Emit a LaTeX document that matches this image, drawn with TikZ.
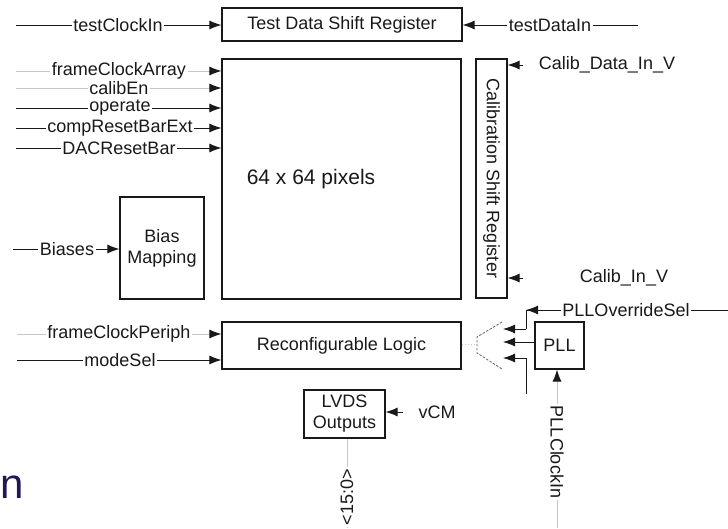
\documentclass[tikz,border=0pt]{standalone}
\usepackage{fontspec}
\setmainfont{Liberation Sans}
\usetikzlibrary{arrows.meta}
\definecolor{navy}{RGB}{32,26,82}
\definecolor{ink}{RGB}{25,25,25}
\tikzset{
  blk/.style={draw=ink, line width=1.2pt, rectangle, inner sep=0pt, align=center,
    font=\fontsize{18}{20}\selectfont, text=ink},
  lab/.style={fill=white, inner xsep=1.5pt, inner ysep=0pt, font=\fontsize{18}{20}\selectfont, text=ink},
  plain/.style={inner sep=0pt, font=\fontsize{18}{20}\selectfont, text=ink},
  arr/.style={draw=ink, line width=0.9pt, -{Latex[length=12pt,width=9pt,color=ink]}},
  farr/.style={draw=gray!45, line width=0.9pt, -{Latex[length=12pt,width=9pt,color=ink]}},
  wire/.style={draw=ink, line width=0.9pt},
  fwire/.style={draw=gray!45, line width=0.9pt},
  dots/.style={draw=gray!80!black, line width=0.8pt, dash pattern=on 2.5pt off 1.5pt},
}
\begin{document}
\begin{tikzpicture}[x=1pt,y=-1pt]
\useasboundingbox (0,0) rectangle (728,528);
\clip (0,0) rectangle (728,528);
% blocks
\node[blk, minimum width=240pt, minimum height=33pt] (tdsr) at (342,24.5) {Test Data Shift Register};
\node[blk, minimum width=239pt, minimum height=240pt] (pix) at (341.5,179) {};
\node[plain, font=\fontsize{21}{22}\selectfont] (pixl) at (311,179) {64 x 64 pixels};
\node[blk, minimum width=31pt, minimum height=239pt] (csr) at (491.5,178.5) {};
\node[plain, rotate=-90] (csrl) at (491.5,178.5) {Calibration Shift Register};
\node[blk, minimum width=84pt, minimum height=102pt] (bias) at (162,248) {Bias\\[1pt]Mapping};
\node[blk, minimum width=239pt, minimum height=47pt] (rlog) at (341.5,345.5) {Reconfigurable Logic};
\node[blk, minimum width=81pt, minimum height=48pt] (lvds) at (344.5,414) {LVDS\\[1pt]Outputs};
\node[blk, minimum width=49pt, minimum height=47pt] (pll) at (559.5,345.5) {PLL};
% left inputs
\coordinate (c1) at (16,25);
\coordinate (c2) at (16,71);
\coordinate (c3) at (16,88);
\coordinate (c4) at (16,108);
\coordinate (c5) at (16,128);
\coordinate (c6) at (16,148);
\coordinate (c7) at (13,249);
\coordinate (c8) at (17,334);
\coordinate (c9) at (17,360);
\draw[arr] (c1) -- (c1 -| tdsr.west);
\draw[farr] (c2) -- (c2 -| pix.west);
\draw[farr] (c3) -- (c3 -| pix.west);
\draw[arr] (c4) -- (c4 -| pix.west);
\draw[arr] (c5) -- (c5 -| pix.west);
\draw[arr] (c6) -- (c6 -| pix.west);
\draw[arr] (c7) -- (c7 -| bias.west);
\draw[farr] (c8) -- (c8 -| rlog.west);
\draw[arr] (c9) -- (c9 -| rlog.west);
\node[lab] (l1) at (118,25) {testClockIn};
\node[lab] (l2) at (119,71) {frameClockArray};
\node[lab] (l3) at (119,88) {calibEn};
\node[lab] (l4) at (120,108) {operate};
\node[lab] (l5) at (120,128) {compResetBarExt};
\node[lab] (l6) at (119,148) {DACResetBar};
\node[lab] (l7) at (67,249) {Biases};
\node[lab] (l8) at (119,334) {frameClockPeriph};
\node[lab] (l9) at (120,360) {modeSel};
% right of test data shift register
\coordinate (td) at (638,25);
\draw[arr] (td) -- (td -| tdsr.east);
\node[lab] (ltd) at (550,25) {testDataIn};
% calib inputs
\coordinate (cd) at (523,65);
\draw[arr] (cd) -- (cd -| csr.east);
\node[plain] (lcd) at (607,65) {Calib\_Data\_In\_V};
\coordinate (ci) at (523,278);
\draw[arr] (ci) -- (ci -| csr.east);
\node[plain] (lci) at (624,278) {Calib\_In\_V};
% PLL override
\coordinate (po) at (728,310);
\coordinate (pk) at (526,310);
\coordinate (pt) at (503,329);
\draw[wire] (po) -- (pk) -- (pk |- pt);
\draw[arr] (pk |- pt) -- (pt);
\coordinate (pa) at (544,310);
\draw[arr] (pa) -- (pk);
\node[lab] (lpo) at (626,310) {PLLOverrideSel};
\coordinate (pm) at (503,342);
\draw[arr] (pm -| pll.west) -- (pm);
\coordinate (pb) at (503,358);
\coordinate (pz) at (526,394);
\draw[wire] (pz) -- (pz |- pb);
\draw[arr] (pz |- pb) -- (pb);
% dotted bracket
\coordinate (b1) at (502,322);
\coordinate (b2) at (477,337);
\coordinate (b3) at (477,353);
\coordinate (b4) at (502,369);
\draw[dots] (b1) -- (b2) -- (b3) -- (b4);
\draw[draw=gray!40, line width=0.6pt, dash pattern=on 1.5pt off 1.5pt] (rlog.east |- b2) ++(0,7) -- (477,344);
% PLL clock in
\coordinate (pc) at (557,528);
\draw[farr] (pc) -- (pc |- pll.south);
\node[lab, rotate=-90] (lpc) at (557,452) {PLLClockIn};
% LVDS
\coordinate (vc) at (403,412);
\draw[arr] (vc) -- (vc -| lvds.east);
\node[plain] (lvc) at (437,412) {vCM};
\coordinate (lo) at (347,528);
\draw[fwire] (lvds.south -| lo) -- (lo);
\node[lab, rotate=90] (llo) at (347,497) {<15:0>};
% title fragment
\node[anchor=base west, inner sep=0pt, text=navy, font=\fontsize{42}{42}\selectfont] (ttl) at (0.5,498) {n};
\end{tikzpicture}
\end{document}
